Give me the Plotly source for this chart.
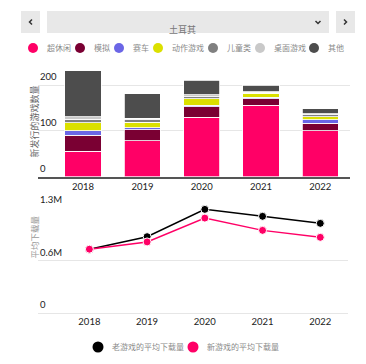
import plotly.graph_objects as go

W, H = 366, 364

years = ["2018", "2019", "2020", "2021", "2022"]
genres = ["超休闲", "模拟", "赛车", "动作游戏", "儿童类", "桌面游戏", "其他"]
colors = ["#ff0066", "#7a0033", "#6b66e6", "#dbe000", "#808080", "#c9c9c9", "#4d4d4d"]

hyper_casual = [56, 78, 130, 156, 100]
simulation = [34, 25, 23, 14, 17]
racing = [10, 4, 3, 3, 7]
action = [18, 12, 14, 9, 7]
kids = [8, 5, 5, 2, 4]
board = [5, 4, 4, 2, 3]
other = [100, 53, 32, 14, 10]
series = [hyper_casual, simulation, racing, action, kids, board, other]

old_avg_dl = [790000, 945000, 1283000, 1197000, 1110000]
new_avg_dl = [790000, 880000, 1175000, 1023000, 937000]

bar_ticks = [0, 100, 200]
line_ticks = [0, 650000, 1300000]
line_tick_text = ["0", "0.6M", "1.3M"]

country = "土耳其"
ytitle_top = "新发行的游戏数量"
ytitle_bot = "平均下载量"
line_names = ["老游戏的平均下载量", "新游戏的平均下载量"]
line_colors = ["#000000", "#ff0066"]

FONT = "Lato, Noto Sans CJK SC, sans-serif"

def px(x):
    return x / W

def py(y):
    return 1 - y / H

fig = go.Figure()

for name, vals, c in zip(genres, series, colors):
    fig.add_trace(go.Bar(x=years, y=vals, name=name,
                         marker=dict(color=c, line=dict(color="white", width=0.8)),
                         width=0.61, showlegend=False, xaxis="x", yaxis="y"))

for name, vals, c in zip(line_names, [old_avg_dl, new_avg_dl], line_colors):
    fig.add_trace(go.Scatter(x=years, y=vals, mode="lines+markers", name=name, showlegend=False,
                             line=dict(color=c, width=1.5),
                             marker=dict(color=c, size=8, line=dict(color="white", width=1)),
                             cliponaxis=False, xaxis="x2", yaxis="y2"))

axis_font = dict(family=FONT, size=9.5, color="#222")

fig.update_layout(
    width=W, height=H, margin=dict(l=0, r=0, t=0, b=0),
    paper_bgcolor="white", plot_bgcolor="white",
    barmode="stack", font=dict(family=FONT), showlegend=False,
    xaxis=dict(domain=[px(38), px(350)], range=[-0.76, 4.5], type="category",
               showline=True, linecolor="#555", linewidth=2, ticks="", tickfont=axis_font,
               showgrid=False, anchor="y", fixedrange=True),
    yaxis=dict(domain=[py(176.7), py(66.8)], range=[0, 240], tickvals=bar_ticks,
               showticklabels=False, showgrid=True,
               gridcolor="#e6e6e6", gridwidth=1, zeroline=False, anchor="x", fixedrange=True),
    xaxis2=dict(domain=[px(38), px(348)], range=[-0.89, 4.48], type="category",
                showline=True, linecolor="#e6e6e6", linewidth=1, ticks="", tickfont=axis_font,
                showgrid=False, anchor="y2", fixedrange=True),
    yaxis2=dict(domain=[py(313), py(208)], range=[0, 1300000], tickvals=line_ticks,
                showticklabels=False, showgrid=True, gridcolor="#e6e6e6", gridwidth=1,
                zeroline=False, anchor="x2", fixedrange=True),
)

for v in bar_ticks:
    fig.add_annotation(text=str(v), x=px(38), y=v, xref="paper", yref="y", showarrow=False,
                       xanchor="left", yanchor="bottom", yshift=1,
                       font=dict(family=FONT, size=9.5, color="#222"))
for v, t in zip(line_ticks, line_tick_text):
    fig.add_annotation(text=t, x=px(38), y=v, xref="paper", yref="y2", showarrow=False,
                       xanchor="left", yanchor="bottom", yshift=1,
                       font=dict(family=FONT, size=9.5, color="#222"))

shapes = [
    dict(type="rect", xref="paper", yref="paper", x0=px(21), x1=px(40), y0=py(33), y1=py(11),
         fillcolor="#e8e8e8", line=dict(width=0), layer="below"),
    dict(type="rect", xref="paper", yref="paper", x0=px(47), x1=px(329), y0=py(33), y1=py(11),
         fillcolor="#e8e8e8", line=dict(width=0), layer="below"),
    dict(type="rect", xref="paper", yref="paper", x0=px(336), x1=px(355), y0=py(33), y1=py(11),
         fillcolor="#e8e8e8", line=dict(width=0), layer="below"),
]
def chevron(pts):
    d = "M " + " L ".join(f"{px(a)},{py(b)}" for a, b in pts)
    return dict(type="path", xref="paper", yref="paper", path=d, line=dict(color="#333", width=1.5))
shapes.append(chevron([(32, 19.5), (29.5, 22), (32, 24.5)]))
shapes.append(chevron([(344, 19.5), (346.5, 22), (344, 24.5)]))
shapes.append(chevron([(315.5, 21), (318, 23.5), (320.5, 21)]))

def circle(cx, cy, r, color):
    return dict(type="circle", xref="paper", yref="paper", x0=px(cx - r), x1=px(cx + r),
                y0=py(cy + r), y1=py(cy - r), fillcolor=color, line=dict(width=0))

# custom top legend
leg_cx = [33, 80, 119, 158, 213, 260, 314]
for name, c, cx in zip(genres, colors, leg_cx):
    shapes.append(circle(cx, 48, 5, c))
    fig.add_annotation(text=name, x=px(cx + 12), y=py(48), xref="paper", yref="paper",
                       showarrow=False, xanchor="left", yanchor="middle",
                       font=dict(family=FONT, size=8, color="#8a8a8a"))
# custom bottom legend
leg2_cx = [98, 193]
for name, c, cx in zip(line_names, line_colors, leg2_cx):
    shapes.append(circle(cx, 347, 5.5, c))
    fig.add_annotation(text=name, x=px(cx + 12), y=py(347), xref="paper", yref="paper",
                       showarrow=False, xanchor="left", yanchor="middle",
                       font=dict(family=FONT, size=8, color="#8a8a8a"))
fig.update_layout(shapes=shapes)

fig.add_annotation(text=country, x=px(182), y=py(22), xref="paper", yref="paper", showarrow=False,
                   font=dict(family=FONT, size=9, color="#777"))
fig.add_annotation(text=ytitle_top, x=px(27), y=py(122), xref="paper", yref="paper", showarrow=False,
                   textangle=-90, font=dict(family=FONT, size=9, color="#666"))
fig.add_annotation(text=ytitle_bot, x=px(27), y=py(261), xref="paper", yref="paper", showarrow=False,
                   textangle=-90, font=dict(family=FONT, size=8.5, color="#999"))

fig.write_html("out.html", config={"displayModeBar": False},
               post_script="document.body.style.margin='0';")
